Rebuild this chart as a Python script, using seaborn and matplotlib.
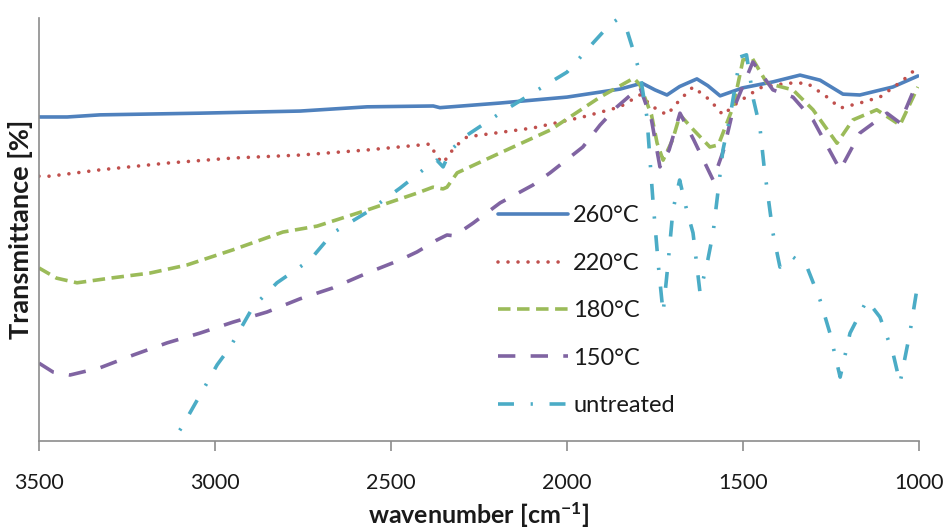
import matplotlib
matplotlib.use("Agg")
import matplotlib.pyplot as plt
import seaborn as sns
import pandas as pd

# ---------------- data ----------------
wn_260 = [3500, 3420, 3327, 3043, 2758, 2568, 2380, 2361, 2190, 2000, 1849, 1787,
          1750, 1716, 1680, 1631, 1600, 1565, 1500, 1415, 1338, 1281, 1216, 1168, 1074, 1003]
t_260 = [76.6, 76.6, 77.1, 77.5, 78.0, 79.0, 79.2, 78.8, 79.9, 81.3, 83.2, 84.6,
         83.0, 81.8, 83.8, 85.6, 84.0, 81.6, 83.5, 84.9, 86.5, 85.3, 82.0, 81.8, 83.7, 86.3]

wn_220 = [3500, 3469, 3327, 3136, 2949, 2758, 2568, 2389, 2369, 2352, 2330, 2312, 2284,
          2097, 1955, 1849, 1793, 1756, 1716, 1680, 1642, 1594, 1557, 1517, 1452, 1375,
          1318, 1261, 1224, 1168, 1111, 1045, 1003]
t_220 = [62.6, 62.6, 64.1, 65.7, 66.9, 67.6, 68.8, 70.2, 67.1, 65.7, 68.3, 70.0, 71.9,
         74.0, 76.6, 79.0, 81.8, 79.0, 77.1, 80.6, 83.7, 80.6, 77.1, 79.9, 83.5, 84.6,
         84.6, 81.3, 78.7, 79.9, 81.3, 85.3, 88.4]

wn_180 = [3500, 3450, 3392, 3298, 3185, 3080, 2949, 2807, 2710, 2568, 2426, 2381, 2352,
          2341, 2312, 2190, 2048, 1906, 1810, 1793, 1760, 1744, 1727, 1700, 1679, 1640,
          1594, 1570, 1528, 1500, 1474, 1432, 1358, 1301, 1233, 1188, 1120, 1054, 1003]
t_180 = [40.9, 38.5, 37.4, 38.5, 39.7, 41.6, 45.2, 49.4, 50.8, 54.6, 58.6, 60.0, 59.6,
         60.0, 63.4, 68.1, 73.5, 81.3, 85.8, 84.2, 77.1, 70.4, 66.4, 71.2, 77.1, 73.5,
         69.5, 70.0, 79.0, 90.1, 90.5, 84.6, 83.0, 78.3, 70.4, 75.9, 78.3, 74.7, 83.7]

wn_150 = [3500, 3460, 3412, 3327, 3233, 3136, 3043, 2949, 2852, 2759, 2665, 2568, 2474,
          2426, 2370, 2341, 2320, 2267, 2190, 2097, 2048, 1955, 1906, 1858, 1793, 1760,
          1736, 1710, 1679, 1640, 1585, 1555, 1528, 1472, 1415, 1358, 1301, 1224, 1168,
          1091, 1054, 1003]
t_150 = [18.4, 16.3, 15.6, 17.3, 20.3, 23.2, 25.5, 28.1, 30.5, 33.6, 36.2, 39.7, 42.8,
         44.7, 47.5, 48.7, 48.5, 51.5, 56.3, 60.5, 63.4, 69.5, 74.7, 79.0, 83.7, 75.9,
         64.8, 68.8, 77.5, 71.2, 61.7, 68.8, 78.3, 89.6, 83.0, 81.3, 75.9, 64.1, 72.8,
         77.5, 75.2, 85.3]

wn_unt = [3150, 3119, 3094, 3062, 3023, 2994, 2957, 2892, 2824, 2730, 2665, 2568, 2474,
          2398, 2370, 2352, 2330, 2284, 2190, 2097, 2000, 1926, 1880, 1858, 1830, 1812,
          1793, 1773, 1756, 1740, 1727, 1712, 1699, 1680, 1660, 1642, 1622, 1600, 1585,
          1557, 1537, 1508, 1490, 1470, 1452, 1440, 1415, 1395, 1375, 1358, 1318, 1281,
          1253, 1224, 1196, 1148, 1111, 1074, 1054, 1026, 1003]
t_unt = [-4.0, 0.2, 3.3, 8.0, 13.7, 18.0, 22.2, 31.7, 37.4, 42.8, 49.2, 54.1, 59.8,
         64.8, 66.4, 64.8, 68.8, 72.3, 77.5, 82.3, 87.2, 94.1, 98.3, 99.6, 97.2, 92.4,
         87.0, 76.6, 57.0, 41.1, 30.3, 42.8, 54.6, 61.7, 54.6, 49.2, 35.0, 42.8, 49.2,
         68.8, 76.6, 90.8, 91.3, 80.6, 74.2, 64.8, 49.2, 41.1, 42.8, 43.5, 41.1, 33.3,
         25.5, 15.1, 25.5, 33.3, 29.3, 20.8, 13.7, 25.5, 37.4]

labels = ["260°C", "220°C", "180°C", "150°C", "untreated"]
x_ticks = [3500, 3000, 2500, 2000, 1500, 1000]

# ---------------- style ----------------
sns.set_theme(style="white")
plt.rcParams["font.family"] = ["Lato", "DejaVu Sans"]
plt.rcParams["mathtext.default"] = "regular"
plt.rcParams["lines.scale_dashes"] = False

fig = plt.figure(figsize=(9.47, 5.28), dpi=100)
ax = fig.add_axes([39 / 947, 1 - 441 / 528, 880 / 947, 423 / 528])

series = [
    (wn_260, t_260, "#4F81BD", dict(linestyle="-", linewidth=2.6)),
    (wn_220, t_220, "#C0504D", dict(linestyle=(0, (0.01, 7.2)), linewidth=2.6,
                                    dash_capstyle="round")),
    (wn_180, t_180, "#9BBB59", dict(linestyle=(0, (9.0, 4.7)), linewidth=2.6)),
    (wn_150, t_150, "#8064A2", dict(linestyle=(0, (12.5, 11.0)), linewidth=2.6)),
    (wn_unt, t_unt, "#4BACC6", dict(linestyle=(0, (11.5, 12.0, 1.6, 12.0)), linewidth=2.6)),
]

for (wn, t, col, kw), lab in zip(series, labels):
    df = pd.DataFrame({"wavenumber": wn, "T": t})
    sns.lineplot(data=df, x="wavenumber", y="T", ax=ax, color=col, label=lab,
                 sort=False, estimator=None, **kw)

ax.set_xlim(3500, 1000)
ax.set_ylim(0, 100)
ax.set_xticks(x_ticks)
ax.set_xticklabels([str(v) for v in x_ticks])
ax.set_yticks([])

for s in ["top", "right"]:
    ax.spines[s].set_visible(False)
for s in ["left", "bottom"]:
    ax.spines[s].set_color("#8C8C8C")
    ax.spines[s].set_linewidth(1.2)

ax.tick_params(axis="x", direction="out", length=7, width=1.2, color="#8C8C8C",
               pad=16, labelsize=15.5, labelcolor="#1a1a1a", bottom=True)

ax.set_xlabel("wavenumber [cm$^{-1}$]", fontsize=18, fontweight="bold",
              color="#1a1a1a", labelpad=5)
ax.set_ylabel("Transmittance [%]", fontsize=19.5, fontweight="bold",
              color="#1a1a1a", labelpad=4)

leg = ax.legend(loc="center left", bbox_to_anchor=(0.5216, 0.308), frameon=False,
                fontsize=17, handlelength=2.97, handletextpad=0.22,
                labelspacing=1.12, borderpad=0, borderaxespad=0)
for txt in leg.get_texts():
    txt.set_color("#1a1a1a")

fig.savefig("out.png", dpi=100)
